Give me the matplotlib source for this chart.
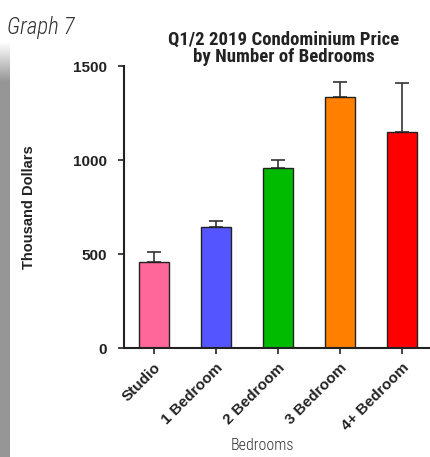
import matplotlib
matplotlib.use("Agg")
import matplotlib.pyplot as plt
import numpy as np

categories = ["Studio", "1 Bedroom", "2 Bedroom", "3 Bedroom", "4+ Bedroom"]
prices = [455, 644, 959, 1336, 1151]
err_up = [56, 34, 41, 77, 258]
bar_colors = ["#FF6699", "#5555FF", "#00BB00", "#FF8000", "#FF0000"]
y_ticks = [0, 500, 1000, 1500]

narrow = ["Roboto Condensed", "Liberation Sans Narrow", "Liberation Sans", "DejaVu Sans"]
arial = ["Liberation Sans", "DejaVu Sans"]

fig = plt.figure(figsize=(4.31, 4.57), dpi=100)
ax = fig.add_axes([0.2877, 0.2385, 0.7123, 0.617])

x = np.arange(len(categories))
ax.bar(x, prices, width=0.48, color=bar_colors, edgecolor="#222222", linewidth=1.0, zorder=2)
ax.errorbar(x, prices, yerr=[np.zeros(len(prices)), err_up], fmt="none",
            ecolor="#333333", elinewidth=1.2, capsize=4.7, capthick=1.2, zorder=1)

ax.set_xlim(-0.48, 4.47)
ax.set_ylim(0, 1500)
ax.set_yticks(y_ticks)
ax.set_xticks(x)
ax.set_xticklabels(categories, rotation=45, ha="right", rotation_mode="anchor",
                   family=arial, fontweight="bold", fontsize=11, color="#222222")
ax.set_yticklabels([str(v) for v in y_ticks], family=arial, fontweight="bold",
                   fontsize=11, color="#222222")
ax.spines["top"].set_visible(False)
ax.spines["right"].set_visible(False)
for side in ["left", "bottom"]:
    ax.spines[side].set_linewidth(1.5)
    ax.spines[side].set_color("#222222")
ax.tick_params(axis="y", length=4, width=1.2, color="#222222", pad=8)
ax.tick_params(axis="x", length=4, width=1.2, color="#222222", pad=5)

fig.text(0.067, 0.547, "Thousand Dollars", rotation=90, ha="center", va="center",
         family=arial, fontweight="bold", fontsize=10.5, color="#222222")
fig.text(0.608, 0.026, "Bedrooms", ha="center", va="center",
         family=narrow, fontweight="light", fontsize=11.5, color="#333333")
fig.text(0.659, 0.894, "Q1/2 2019 Condominium Price\nby Number of Bedrooms", ha="center",
         va="center", family=narrow, fontweight="bold", fontsize=13.5, color="#222222",
         linespacing=0.95)
fig.text(0.016, 0.94, "Graph 7", ha="left", va="center", family=narrow, style="italic",
         fontweight="light", fontsize=16.5, color="#333333")

# grey side strip with fade at the top
strip = fig.add_axes([0, 0, 0.021, 0.91])
grad = np.ones((200, 1))
grad[-20:, 0] = np.linspace(1, 0, 20)
strip.imshow(grad, aspect="auto", cmap=matplotlib.colors.LinearSegmentedColormap.from_list(
    "g", ["#FFFFFF", "#969696"]), origin="lower", extent=[0, 1, 0, 1])
strip.axis("off")

fig.savefig("out.png", dpi=100)
